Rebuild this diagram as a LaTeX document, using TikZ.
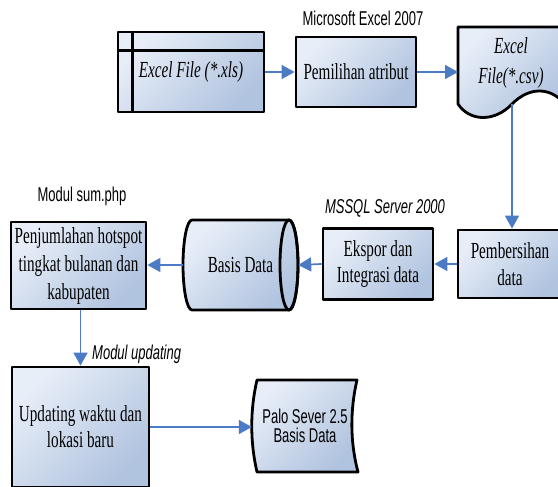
\documentclass[tikz,border=0pt]{standalone}
\usepackage{fontspec}
\newfontfamily\serifc[FakeStretch=0.66]{Liberation Serif}
\newfontfamily\sansc[FakeStretch=0.65]{Liberation Sans}
\usetikzlibrary{arrows.meta,calc}
\definecolor{fillL}{HTML}{E8EEF8}
\definecolor{fillD}{HTML}{B0C3DF}
\definecolor{arrc}{HTML}{4A7BC4}
\begin{document}
\begin{tikzpicture}[x=1pt,y=-1pt,
  shfill/.style={top color=fillL, bottom color=fillD, shading angle=45},
  outl/.style={draw=black, line width=2.8pt, line join=round},
  box/.style={outl, shfill, inner sep=0pt, align=center,
    font=\serifc\fontsize{23}{27}\selectfont},
  txt/.style={inner sep=0pt, align=center, font=\serifc\fontsize{23}{27}\selectfont},
  lab/.style={inner sep=0pt, font=\sansc\fontsize{20}{20}\selectfont},
  arr/.style={draw=arrc, line width=1.7pt, -{Triangle[length=13pt,width=14pt]}}]
\clip (0,0) rectangle (558,487);

% top row
\node[box, minimum width=146pt, minimum height=80pt, font=\serifc\itshape\fontsize{23}{27}\selectfont] (xls) at (191,72) {Excel File (*.xls)};
\draw[outl] ($(xls.north west)+(16,0)$) -- ($(xls.south west)+(16,0)$);
\draw[outl] ($(xls.north west)+(0,20)$) -- ($(xls.north east)+(0,20)$);

\node[box, minimum width=120pt, minimum height=70pt] (pem) at (356,72) {Pemilihan atribut};
\node[lab] (lmse) at (363,18) {Microsoft Excel 2007};

\path[outl, shfill] (458,27) -- (563,27) -- (563,102)
  .. controls (550,88) and (530,86) .. (512,104)
  .. controls (495,122) and (470,122) .. (458,104) -- cycle;
\node[txt, font=\serifc\itshape\fontsize{23}{30}\selectfont] (csv) at (511,63) {Excel\\File(*.csv)};
\coordinate (csvl) at (458,72);
\coordinate (csvb) at (512,104);

% middle row
\node[box, minimum width=104pt, minimum height=68pt] (pemb) at (510,264) {Pembersihan\\data};
\node[box, minimum width=110pt, minimum height=71pt, font=\serifc\fontsize{23}{26}\selectfont] (eks) at (378,264) {Ekspor dan\\Integrasi data};
\node[lab, font=\sansc\itshape\fontsize{20}{20}\selectfont] (lms) at (385,208) {MSSQL Server 2000};

\path[outl, shfill] (192,220) -- (289,220)
  arc[start angle=-90, end angle=90, x radius=9, y radius=45]
  -- (192,310) arc[start angle=90, end angle=270, x radius=9, y radius=45] -- cycle;
\draw[outl] (289,265) ellipse[x radius=9, y radius=45];
\node[txt, minimum width=115pt, minimum height=90pt] (bd) at (240.5,265) {Basis Data};

\node[box, minimum width=135pt, minimum height=87pt, font=\serifc\fontsize{23}{28}\selectfont] (pj) at (78.5,265.5) {Penjumlahan hotspot\\tingkat bulanan dan\\kabupaten};
\node[lab] (lsum) at (82,196) {Modul sum.php};

% bottom row
\node[box, minimum width=137pt, minimum height=120pt, font=\serifc\fontsize{23}{26}\selectfont] (upd) at (80.5,427) {Updating waktu dan\\lokasi baru};
\node[lab, font=\sansc\itshape\fontsize{20}{20}\selectfont, anchor=west] (lupd) at (92,354) {Modul updating};

\path[outl, shfill] (257,380) -- (357,380)
  .. controls (350,410) and (350,442) .. (358,472) -- (257,472)
  .. controls (250,442) and (250,410) .. (257,380) -- cycle;
\node[inner sep=0pt, align=center, font=\sansc\fontsize{20}{19.5}\selectfont, minimum width=106pt, minimum height=92pt] (palo) at (305,426) {Palo Sever 2.5\\Basis Data};

% connectors
\draw[arr] (xls.east) -- (pem.west);
\draw[arr] (pem.east) -- (csvl);
\draw[arr] (csvb) -- (csvb |- pemb.north);
\draw[arr] (pemb.west) -- (eks.east);
\draw[arr] (eks.west) -- (bd.east);
\draw[arr] (bd.west) -- (pj.east |- bd.west);
\draw[arr] (pj.south -| upd.north) -- (upd.north);
\draw[arr] (upd.east) -- (upd.east -| palo.west);
\end{tikzpicture}
\end{document}
